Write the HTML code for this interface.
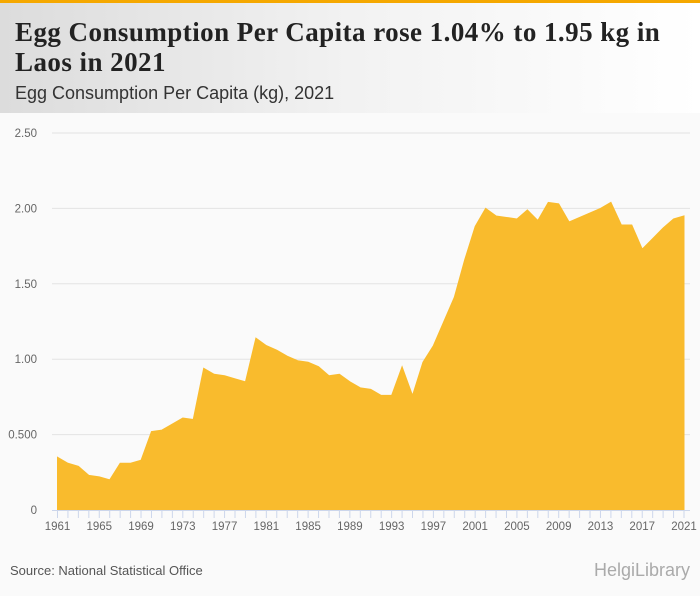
<!DOCTYPE html>
<html><head><meta charset="utf-8"><style>
body{margin:0;width:700px;height:596px;background:#fafafa;font-family:"Liberation Sans",sans-serif;overflow:hidden;position:relative}
#hdr{position:absolute;left:0;top:0;width:700px;height:113px;background:linear-gradient(90deg,#dcdcdc 0%,#f2f2f2 50%,#fff 100%);border-top:3px solid #f5a800;box-sizing:border-box}
#title{position:absolute;left:15px;top:14px;font-family:"Liberation Serif",serif;font-weight:bold;font-size:27px;line-height:30px;color:#222;width:690px;letter-spacing:0.45px}
#sub{position:absolute;left:15px;top:80px;font-size:18px;color:#333}
#src{position:absolute;left:10px;top:563px;font-size:13px;color:#555}
#logo{position:absolute;right:10px;top:560px;font-size:18px;color:#aaa}
</style></head><body>
<div id="hdr">
<div id="title">Egg Consumption Per Capita rose 1.04% to 1.95 kg in Laos in 2021</div>
<div id="sub">Egg Consumption Per Capita (kg), 2021</div>
</div>
<svg id="chart" width="700" height="596" style="position:absolute;left:0;top:0"></svg>
<div id="src">Source: National Statistical Office</div>
<div id="logo">HelgiLibrary</div>
<script>
const years=[1961,1962,1963,1964,1965,1966,1967,1968,1969,1970,1971,1972,1973,1974,1975,1976,1977,1978,1979,1980,1981,1982,1983,1984,1985,1986,1987,1988,1989,1990,1991,1992,1993,1994,1995,1996,1997,1998,1999,2000,2001,2002,2003,2004,2005,2006,2007,2008,2009,2010,2011,2012,2013,2014,2015,2016,2017,2018,2019,2020,2021];
const values=[.35,.31,.29,.23,.22,.20,.31,.31,.33,.52,.53,.57,.61,.60,.94,.90,.89,.87,.85,1.14,1.09,1.06,1.02,.99,.98,.95,.89,.90,.85,.81,.80,.76,.76,.95,.76,.98,1.09,1.25,1.41,1.66,1.88,2.00,1.95,1.94,1.93,1.99,1.92,2.04,2.03,1.91,1.94,1.97,2.00,2.04,1.89,1.89,1.73,1.80,1.87,1.93,1.95];
const yTicks=[0,0.5,1,1.5,2,2.5];
const yTickLabels=["0","0.500","1.00","1.50","2.00","2.50"];
const xLabelYears=[1961,1965,1969,1973,1977,1981,1985,1989,1993,1997,2001,2005,2009,2013,2017,2021];
const svg=document.getElementById('chart');const NS='http://www.w3.org/2000/svg';
const x=v=>57.5+(v-1961)*(684-57.5)/60;
const y=v=>510-v*(510-133)/2.5;
function el(t,a){const e=document.createElementNS(NS,t);for(const k in a)e.setAttribute(k,a[k]);svg.appendChild(e);return e;}
yTicks.forEach((t,i)=>{
 if(t>0){const g=el('line',{x1:52,x2:690,y1:y(t),y2:y(t),stroke:'#e3e3e3','stroke-width':1});
 
 }
 const l=el('text',{x:37,y:y(t)+4,'text-anchor':'end','font-size':11.5,fill:'#666','font-family':'Liberation Sans,sans-serif'});
 l.textContent=yTickLabels[i];
 
 
});
let d='M'+x(years[0])+','+y(0);
years.forEach((yr,i)=>{d+=' L'+x(yr)+','+y(values[i]);});
d+=' L'+x(years[years.length-1])+','+y(0)+' Z';
const a=el('path',{d:d,fill:'#f9bb2d',stroke:'#f9bb2d','stroke-width':1});


const ax=el('line',{x1:52,x2:690,y1:510.5,y2:510.5,stroke:'#ccd6eb'});


years.forEach(yr=>{const t=el('line',{x1:x(yr),x2:x(yr),y1:510,y2:518,stroke:'#ccd6eb'});
 
 });
xLabelYears.forEach(yr=>{const l=el('text',{x:x(yr),y:530,'text-anchor':'middle','font-size':11.5,fill:'#666','font-family':'Liberation Sans,sans-serif'});
 l.textContent=yr;
 
 });
</script>
</body></html>
